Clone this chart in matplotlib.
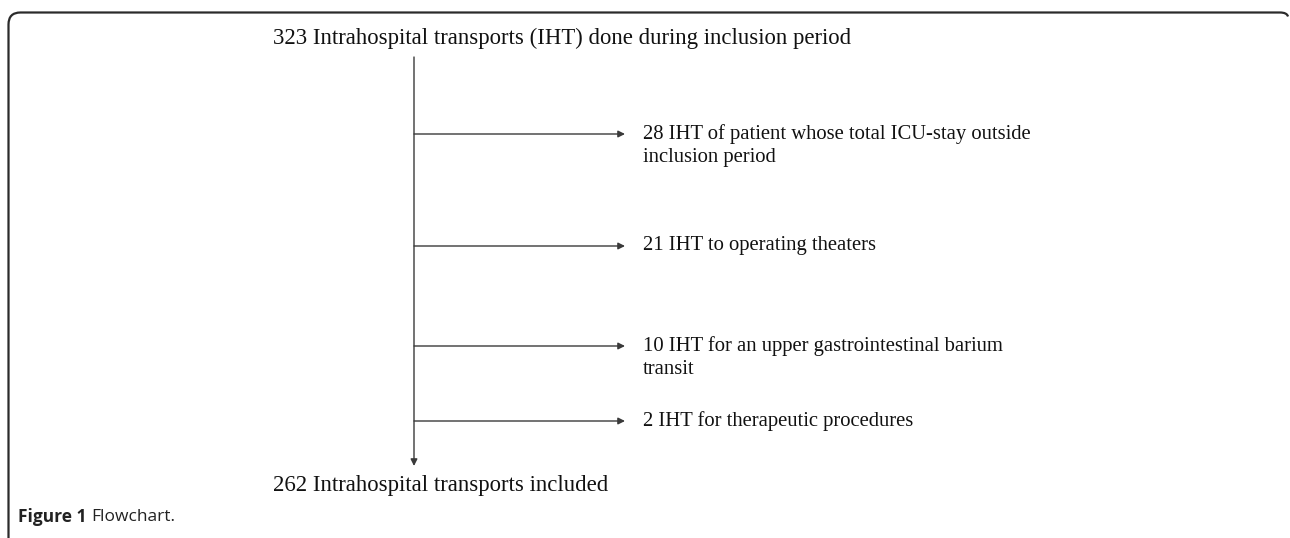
import matplotlib
matplotlib.use("Agg")
import matplotlib.pyplot as plt
from matplotlib.path import Path
from matplotlib.patches import PathPatch

# ---- data ----
top_label = "323 Intrahospital transports (IHT) done during inclusion period"
bottom_label = "262 Intrahospital transports included"
exclusion_labels = [
    "28 IHT of patient whose total ICU-stay outside\ninclusion period",
    "21 IHT to operating theaters",
    "10 IHT for an upper gastrointestinal barium\ntransit",
    "2 IHT for therapeutic procedures",
]
caption_bold = "Figure 1"
caption_text = "Flowchart."

# ---- layout ----
W, H = 1290, 538
fig = plt.figure(figsize=(W / 100, H / 100), dpi=100)
ax = fig.add_axes([0, 0, 1, 1])
ax.set_xlim(0, W)
ax.set_ylim(H, 0)
ax.axis("off")

serif = ["Liberation Serif", "DejaVu Serif"]
fs_main = 16.4
fs_branch = 14.9
line_col = "#3a3a3a"
txt_col = "#111111"

# frame with rounded top-left corner
r = 12
x0, y0 = 8.5, 12.5
verts = [(x0, H + 5), (x0, y0 + r), (x0, y0), (x0 + r, y0), (1280, y0), (1287, y0), (1288, y0 + 4)]
codes = [Path.MOVETO, Path.LINETO, Path.CURVE3, Path.CURVE3, Path.LINETO, Path.CURVE3, Path.CURVE3]
ax.add_patch(PathPatch(Path(verts, codes), fill=False, lw=1.6, edgecolor="#2b2b2b"))

ax.text(273, 38, top_label, fontsize=fs_main, family=serif, va="center", ha="left", color=txt_col)

vx = 414
ax.annotate("", xy=(vx, 466), xytext=(vx, 57),
            arrowprops=dict(arrowstyle="-|>", lw=1.0, color=line_col,
                            mutation_scale=10, shrinkA=0, shrinkB=0))

branch_y = [134, 246, 346, 421]
for y, lab in zip(branch_y, exclusion_labels):
    ax.annotate("", xy=(625, y), xytext=(vx, y),
                arrowprops=dict(arrowstyle="-|>", lw=1.0, color=line_col,
                                mutation_scale=10, shrinkA=0, shrinkB=0))
    ax.text(643, y - 10, lab, fontsize=fs_branch, family=serif, va="top", ha="left",
            color=txt_col, linespacing=1.32)

ax.text(273, 486, bottom_label, fontsize=fs_main, family=serif, va="center", ha="left", color=txt_col)

t = ax.text(18, 517, caption_bold + " ", fontsize=12.5, family=["Open Sans", "DejaVu Sans"],
            fontweight="bold", va="center", ha="left", color="#222222")
fig.canvas.draw()
bb = t.get_window_extent()
ax.text(bb.x1, H - 517, caption_text, fontsize=12.5, family=["Open Sans", "DejaVu Sans"],
        va="center", ha="left", color="#222222", transform=None)

fig.savefig("out.png", dpi=100)
